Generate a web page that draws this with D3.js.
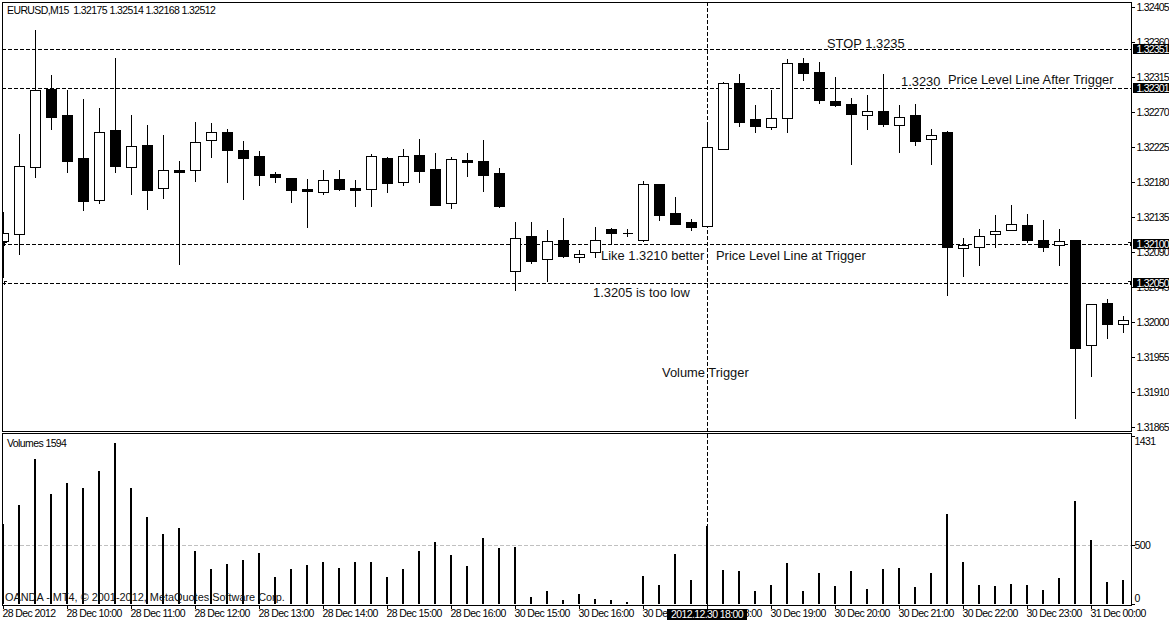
<!DOCTYPE html>
<html>
<head>
<meta charset="utf-8">
<script src="https://cdn.jsdelivr.net/npm/d3@7"></script>
<style>
html, body { margin: 0; padding: 0; background: #fff; overflow: hidden; }
svg { display: block; }
text { font-family: "Liberation Sans", Arial, sans-serif; fill: #000; white-space: pre; }
.tiny { font-size: 10.5px; letter-spacing: -0.6px; }
.scale { font-size: 10.5px; letter-spacing: -0.8px; }
.note { font-size: 12.9px; fill: #111; }
.copy { font-size: 10.9px; fill: #111; }
</style>
</head>
<body>
<div id="chart"></div>
<script>
// one entry per 15 minute bar
var opens = [1.32104,1.32113,1.32199,1.32300,1.32266,1.32211,1.32157,1.32247,1.32199,1.32228,1.32172,1.32195,1.32195,1.32234,1.32244,1.32221,1.32213,1.32190,1.32185,1.32171,1.32167,1.32184,1.32172,1.32171,1.32211,1.32180,1.32215,1.32197,1.32153,1.32208,1.32207,1.32192,1.32066,1.32111,1.32081,1.32105,1.32083,1.32090,1.32120,1.32114,1.32105,1.32177,1.32140,1.32129,1.32123,1.32223,1.32307,1.32261,1.32251,1.32262,1.32333,1.32321,1.32284,1.32280,1.32266,1.32271,1.32253,1.32266,1.32235,1.32244,1.32095,1.32097,1.32113,1.32118,1.32125,1.32105,1.32099,1.32105,1.31970,1.32024,1.31998];
var highs = [1.32141,1.32242,1.32375,1.32318,1.32298,1.32287,1.32275,1.32339,1.32266,1.32253,1.32240,1.32207,1.32257,1.32256,1.32248,1.32233,1.32220,1.32193,1.32185,1.32184,1.32195,1.32195,1.32183,1.32216,1.32212,1.32222,1.32235,1.32217,1.32212,1.32217,1.32234,1.32198,1.32129,1.32129,1.32118,1.32134,1.32093,1.32122,1.32121,1.32120,1.32181,1.32177,1.32161,1.32132,1.32255,1.32309,1.32319,1.32279,1.32298,1.32338,1.32339,1.32334,1.32315,1.32288,1.32292,1.32319,1.32279,1.32280,1.32248,1.32246,1.32108,1.32120,1.32138,1.32150,1.32139,1.32131,1.32120,1.32105,1.32023,1.32030,1.32008];
var lows = [1.32058,1.32087,1.32186,1.32248,1.32193,1.32144,1.32153,1.32193,1.32165,1.32145,1.32160,1.32075,1.32181,1.32212,1.32180,1.32158,1.32176,1.32180,1.32154,1.32122,1.32165,1.32170,1.32149,1.32149,1.32167,1.32176,1.32180,1.32150,1.32147,1.32188,1.32168,1.32148,1.32041,1.32076,1.32053,1.32083,1.32077,1.32084,1.32102,1.32111,1.32104,1.32131,1.32126,1.32118,1.32122,1.32223,1.32252,1.32244,1.32248,1.32244,1.32311,1.32282,1.32278,1.32203,1.32248,1.32252,1.32219,1.32228,1.32203,1.32035,1.32059,1.32073,1.32096,1.32118,1.32103,1.32091,1.32073,1.31877,1.31931,1.31980,1.31987];
var closes = [1.32114,1.32200,1.32298,1.32264,1.32207,1.32156,1.32244,1.32201,1.32226,1.32170,1.32195,1.32193,1.32232,1.32244,1.32221,1.32211,1.32189,1.32186,1.32170,1.32169,1.32183,1.32171,1.32170,1.32213,1.32179,1.32213,1.32194,1.32151,1.32209,1.32206,1.32189,1.32149,1.32108,1.32079,1.32104,1.32085,1.32088,1.32105,1.32114,1.32114,1.32178,1.32137,1.32126,1.32122,1.32225,1.32307,1.32257,1.32252,1.32262,1.32333,1.32320,1.32286,1.32279,1.32268,1.32271,1.32255,1.32264,1.32233,1.32241,1.32097,1.32099,1.32110,1.32117,1.32126,1.32105,1.32097,1.32104,1.31967,1.32023,1.31998,1.32002];
var volumes = [681,843,1235,937,1031,988,1133,1371,988,741,596,647,451,298,341,375,434,230,298,332,358,307,358,358,230,298,451,528,417,324,562,477,485,60,111,34,85,43,34,17,238,162,426,204,664,290,281,111,162,349,111,264,153,281,128,298,307,145,264,767,358,162,153,170,162,119,221,877,545,187,204];

var timeTicks = [0,4,8,12,16,20,24,28,32,36,40,44,48,52,56,60,64,68];
var timeLabels = ['28 Dec 2012','28 Dec 10:00','28 Dec 11:00','28 Dec 12:00','28 Dec 13:00','28 Dec 14:00','28 Dec 15:00','28 Dec 16:00','30 Dec 15:00','30 Dec 16:00','30 Dec 17:00','30 Dec 18:00','30 Dec 19:00','30 Dec 20:00','30 Dec 21:00','30 Dec 22:00','30 Dec 23:00','31 Dec 00:00'];
var priceTicks = [1.32405,1.32360,1.32315,1.32270,1.32225,1.32180,1.32135,1.32090,1.32045,1.32000,1.31955,1.31910,1.31865];
var priceLevels = [1.32351,1.32301,1.32100,1.32050];
var markedLevels = [1.32100,1.32050];
var volumeTicks = [0,500,1431];
var cursorBar = 44;
var cursorLabel = '2012.12.30 18:00';

var w = 1169, h = 622;
var left = 2, right = 1131, top1 = 2, bottom1 = 431, top2 = 433, bottom2 = 605;

var svg = d3.select('#chart').append('svg').attr('width', w).attr('height', h).attr('shape-rendering', 'crispEdges');

var xScale = d3.scaleLinear().domain([0, 70]).range([3, 1123]);
var yPrice = d3.scaleLinear().domain([1.31865, 1.32405]).range([427, 7]);
var yVol = d3.scaleLinear().domain([0, 1431]).range([604, 436]);

svg.append('clipPath').attr('id', 'pane').append('rect').attr('x', left).attr('y', 0).attr('width', right - left).attr('height', h);

var plot = svg.append('g').attr('clip-path', 'url(#pane)');

// dashed price lines and cursor go behind the candles
plot.selectAll('.level').data(priceLevels).enter().append('line')
	.attr('class', 'level')
	.attr('x1', left).attr('x2', right)
	.attr('y1', function(d){ return Math.round(yPrice(d)) + 0.5; })
	.attr('y2', function(d){ return Math.round(yPrice(d)) + 0.5; })
	.attr('stroke', '#000').attr('stroke-dasharray', '4,2');

// little marks MT4 leaves at both ends of the lower two lines
plot.selectAll('.markR').data(markedLevels).enter().append('path')
	.attr('class', 'markR')
	.attr('d', function(d){ var y = Math.round(yPrice(d)) - 1.5; return 'M' + (right - 3) + ',' + y + 'H' + (right - 0.5) + 'V' + (y + 3); })
	.attr('fill', 'none').attr('stroke', '#000');
plot.selectAll('.markL').data(markedLevels).enter().append('path')
	.attr('class', 'markL')
	.attr('d', function(d){ var y = Math.round(yPrice(d)) - 1.5; return 'M' + (left + 2.5) + ',' + (y + 3) + 'V' + y + 'H' + (left + 5); })
	.attr('fill', 'none').attr('stroke', '#000');

plot.append('line')
	.attr('x1', xScale(cursorBar) + 0.5).attr('x2', xScale(cursorBar) + 0.5)
	.attr('y1', top1).attr('y2', bottom2)
	.attr('stroke', '#000').attr('stroke-dasharray', '4,2');

plot.append('line')
	.attr('x1', left).attr('x2', right)
	.attr('y1', Math.round(yVol(500)) + 0.5).attr('y2', Math.round(yVol(500)) + 0.5)
	.attr('stroke', '#c0c0c0').attr('stroke-dasharray', '4,2');

// candles
var candles = plot.selectAll('.candle').data(d3.range(opens.length)).enter().append('g').attr('class', 'candle');

candles.append('line')
	.attr('x1', function(i){ return xScale(i) + 0.5; })
	.attr('x2', function(i){ return xScale(i) + 0.5; })
	.attr('y1', function(i){ return Math.round(yPrice(highs[i])); })
	.attr('y2', function(i){ return Math.round(yPrice(lows[i])) + 1; })
	.attr('stroke', '#000');

// path rather than rect so a doji with open == close still draws
candles.append('path')
	.attr('d', function(i){
		var x0 = xScale(i) - 4.5;
		var y0 = Math.round(yPrice(Math.max(opens[i], closes[i]))) + 0.5;
		var y1 = Math.round(yPrice(Math.min(opens[i], closes[i]))) + 0.5;
		var p = d3.path();
		p.moveTo(x0, y0); p.lineTo(x0 + 10, y0); p.lineTo(x0 + 10, y1); p.lineTo(x0, y1); p.closePath();
		return p.toString();
	})
	.attr('fill', function(i){ return closes[i] > opens[i] ? '#fff' : '#000'; })
	.attr('stroke', '#000');

// volume bars
plot.selectAll('.vol').data(volumes).enter().append('rect')
	.attr('class', 'vol')
	.attr('x', function(d, i){ return xScale(i) - 1; })
	.attr('width', 2)
	.attr('y', function(d){ return yVol(d); })
	.attr('height', function(d){ return yVol(0) - yVol(d); })
	.attr('fill', '#000');

// pane frames
[[top1, bottom1], [top2, bottom2]].forEach(function(p){
	svg.append('rect')
		.attr('x', left + 0.5).attr('y', p[0] + 0.5)
		.attr('width', right - left).attr('height', p[1] - p[0])
		.attr('fill', 'none').attr('stroke', '#000');
});

// axes
var priceAxis = d3.axisRight(yPrice).tickValues(priceTicks).tickFormat(d3.format('.5f')).tickSize(3).tickPadding(2);
var priceG = svg.append('g').attr('class', 'axis').attr('transform', 'translate(' + (right + 0.5) + ',0)').call(priceAxis);

var volAxis = d3.axisRight(yVol).tickValues(volumeTicks).tickFormat(d3.format('d')).tickSize(3).tickPadding(0);
var volG = svg.append('g').attr('class', 'axis').attr('transform', 'translate(' + (right + 0.5) + ',0)').call(volAxis);
volG.selectAll('.tick text').attr('dy', function(d){ return d === 0 ? '-0.25em' : d === 1431 ? '0.85em' : '0.32em'; });

var timeAxis = d3.axisBottom(xScale).tickValues(timeTicks).tickFormat(function(d, i){ return timeLabels[i]; }).tickSize(3).tickPadding(1);
var timeG = svg.append('g').attr('class', 'axis').attr('transform', 'translate(0,' + (bottom2 + 0.5) + ')').call(timeAxis);
timeG.selectAll('.tick text').attr('text-anchor', 'start').attr('x', -1);

svg.selectAll('.axis .domain').remove();
svg.selectAll('.axis text').attr('class', 'tiny');
priceG.selectAll('text').attr('class', 'scale');
svg.selectAll('.axis').attr('font-size', null).attr('font-family', null);

// price level flags on the right scale
var flags = svg.selectAll('.flag').data(priceLevels).enter().append('g').attr('class', 'flag');
flags.append('rect')
	.attr('x', right + 2).attr('width', w - right - 2)
	.attr('y', function(d){ return Math.round(yPrice(d)) - 5; })
	.attr('height', 10).attr('fill', '#000');
flags.append('text')
	.attr('class', 'scale')
	.attr('x', right + 5.5)
	.attr('y', function(d){ return Math.round(yPrice(d)) + 4; })
	.style('fill', '#fff')
	.text(d3.format('.5f'));

// cursor time flag
svg.append('rect')
	.attr('x', xScale(cursorBar) - 40).attr('y', 609)
	.attr('width', 80).attr('height', 11).attr('fill', '#000');
svg.append('text')
	.attr('class', 'tiny')
	.attr('x', xScale(cursorBar)).attr('y', 618).attr('text-anchor', 'middle')
	.style('fill', '#fff')
	.text(cursorLabel);

// labels
function label(cls, txt, x, y){
	svg.append('text').attr('class', cls).attr('x', x).attr('y', y).text(txt);
}
label('tiny', 'EURUSD,M15  1.32175 1.32514 1.32168 1.32512', 7, 14);
label('tiny', 'Volumes 1594', 7, 447);
label('copy', 'OANDA - MT4, \u00a9 2001-2012, MetaQuotes Software Corp.', 5, 601);
label('note', 'STOP 1.3235', 827, 48);
label('note', '1.3230', 901, 86);
label('note', 'Price Level Line After Trigger', 948, 84);
label('note', 'Like 1.3210 better', 601, 260);
label('note', 'Price Level Line at Trigger', 716, 260);
label('note', '1.3205 is too low', 593, 297);
label('note', 'Volume Trigger', 662, 377);
</script>
</body>
</html>
